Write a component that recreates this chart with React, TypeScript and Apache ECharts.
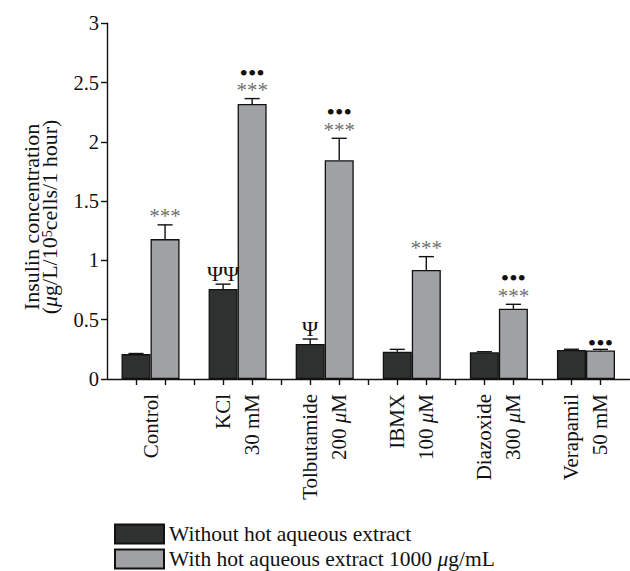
import React, { useEffect, useRef } from "react";
import * as echarts from "echarts";

const categories = ["Control", "KCl\n30 mM", "Tolbutamide\n200 μM", "IBMX\n100 μM", "Diazoxide\n300 μM", "Verapamil\n50 mM"];
const seriesNames = ["Without hot aqueous extract", "With hot aqueous extract 1000 μg/mL"];
const withoutValues = [0.21, 0.76, 0.295, 0.23, 0.225, 0.245];
const withoutSem = [0.005, 0.04, 0.042, 0.02, 0.005, 0.006];
const withValues = [1.18, 2.32, 1.845, 0.92, 0.592, 0.24];
const withSem = [0.12, 0.045, 0.185, 0.112, 0.038, 0.01];
const withoutMarks = ["", "ΨΨ", "Ψ", "", "", ""];
const withStars = ["***", "***", "***", "***", "***", ""];
const withDots = ["", "•••", "•••", "", "•••", "•••"];
const yTicks = [0, 0.5, 1, 1.5, 2, 2.5, 3];

const FONT = "'Liberation Serif', 'Times New Roman', serif";
const DARK = "#2f3130";
const LIGHT = "#a0a1a4";
const STAR = "#707070";
const FS = 21;

const italicMu = (s: string) => s.replace(/μ/g, "{i|μ}");

export default function App() {
  const ref = useRef<HTMLDivElement>(null);
  useEffect(() => {
    if (!ref.current) return;
    const chart = echarts.init(ref.current, undefined, { renderer: "svg" });

    const markLines = (side: number, idx: number): { text: string; kind: string }[] => {
      const out: { text: string; kind: string }[] = [];
      if (side < 0) {
        if (withoutMarks[idx]) out.push({ text: withoutMarks[idx], kind: "psi" });
      } else {
        if (withStars[idx]) out.push({ text: withStars[idx], kind: "star" });
        if (withDots[idx]) out.push({ text: withDots[idx], kind: "dot" });
      }
      return out;
    };

    const makeRenderer = (side: number) => (params: any, api: any) => {
      const ci = api.value(0);
      const v = api.value(1);
      const e = api.value(2);
      const band = api.size([1, 0])[0];
      const bw = band / 3;
      const p0 = api.coord([ci, v]);
      const p1 = api.coord([ci, v + e]);
      const x = p0[0] + (side * bw) / 2;
      const half = bw * 0.26;
      const children: any[] = [
        { type: "line", shape: { x1: x, y1: p0[1], x2: x, y2: p1[1] }, style: { stroke: "#111", lineWidth: 1.4 } },
        { type: "line", shape: { x1: x - half, y1: p1[1], x2: x + half, y2: p1[1] }, style: { stroke: "#111", lineWidth: 1.4 } },
      ];
      const lines = markLines(side, params.dataIndex);
      const capY = p1[1];
      lines.forEach((ln, k) => {
        let fontSize = 21;
        let fill = "#111";
        let cy = capY;
        let lh = 10;
        if (ln.kind === "star") {
          fill = STAR;
          cy = capY - 8.5;
        } else if (ln.kind === "dot") {
          fontSize = 24;
          cy = k === 0 ? capY - 6 : capY - 26;
        } else {
          fontSize = 22;
          cy = capY - 11;
          lh = 14;
        }
        children.push({
          type: "text",
          x,
          y: cy,
          style: {
            text: ln.text,
            fill,
            fontSize,
            fontFamily: FONT,
            lineHeight: lh,
            align: "center",
            verticalAlign: "middle",
            textAlign: "center",
            textVerticalAlign: "middle",
          },
        });
      });
      return { type: "group", children };
    };

    const slotCount = categories.length * 3;
    const tickValues: number[] = [];
    for (let i = 1; i < slotCount; i++) tickValues.push(i);

    chart.setOption({
      animation: false,
      textStyle: { fontFamily: FONT },
      grid: { left: 107, right: 0.5, top: 23.3, bottom: 192, containLabel: false, outerBoundsMode: "none" },
      legend: {
        data: seriesNames,
        orient: "vertical",
        left: 114,
        top: 523,
        height: 60,
        width: 500,
        padding: 0,
        itemWidth: 49,
        itemHeight: 19,
        itemGap: 3,
        icon: "rect",
        formatter: (n: string) => italicMu(n),
        textStyle: {
          fontSize: 21.5,
          fontFamily: FONT,
          color: "#111",
          lineHeight: 19,
          rich: { i: { fontStyle: "italic", fontSize: 21.5, fontFamily: FONT, color: "#111", lineHeight: 19 } },
        },
      },
      xAxis: [
        {
          type: "category",
          data: categories,
          axisLine: { show: true, lineStyle: { color: "#111", width: 1.4 } },
          axisTick: { show: false },
          axisLabel: {
            rotate: 90,
            margin: 15,
            fontSize: FS,
            fontFamily: FONT,
            color: "#111",
            lineHeight: 29,
            interval: 0,
            formatter: (v: string) => italicMu(v),
            rich: { i: { fontStyle: "italic", fontSize: FS, fontFamily: FONT, color: "#111", lineHeight: 29 } },
          },
        },
        {
          type: "value",
          min: 0,
          max: slotCount,
          position: "bottom",
          axisLine: { show: false },
          axisLabel: { show: false },
          splitLine: { show: false },
          axisTick: { show: true, length: 6, customValues: tickValues, lineStyle: { color: "#111", width: 1.4 } },
        },
      ],
      yAxis: {
        type: "value",
        min: 0,
        max: 3,
        interval: 0.5,
        axisLine: { show: true, lineStyle: { color: "#111", width: 1.4 } },
        axisTick: { show: true, length: 6, lineStyle: { color: "#111", width: 1.4 } },
        splitLine: { show: false },
        axisLabel: {
          fontSize: 20.5,
          fontFamily: FONT,
          color: "#111",
          margin: 8,
          formatter: (v: number) => (yTicks.includes(v) ? String(v) : ""),
        },
      },
      graphic: [
        {
          type: "text",
          x: 40,
          y: 217,
          rotation: Math.PI / 2,
          style: {
            text: "Insulin concentration\n({i|μ}g/L/10{sup|5}cells/1 hour)",
            fontSize: 22,
            fontFamily: FONT,
            fill: "#111",
            align: "center",
            verticalAlign: "middle",
            lineHeight: 18,
            rich: {
              i: { fontStyle: "italic", fontSize: 22, fontFamily: FONT, fill: "#111", lineHeight: 18 },
              sup: { fontSize: 14, fontFamily: FONT, fill: "#111", lineHeight: 18, verticalAlign: "top", padding: [0, 0, 8, 0] },
            },
          },
        },
      ],
      series: [
        {
          name: seriesNames[0],
          type: "bar",
          data: withoutValues,
          barGap: "0%",
          barCategoryGap: "33.33%",
          itemStyle: { color: DARK, borderColor: "#111", borderWidth: 1.3 },
        },
        {
          name: seriesNames[1],
          type: "bar",
          data: withValues,
          barGap: "0%",
          barCategoryGap: "33.33%",
          itemStyle: { color: LIGHT, borderColor: "#111", borderWidth: 1.3 },
        },
        {
          type: "custom",
          renderItem: makeRenderer(-1),
          data: withoutValues.map((v, i) => [i, v, withoutSem[i]]),
          encode: { x: 0, y: 1 },
          z: 5,
        },
        {
          type: "custom",
          renderItem: makeRenderer(1),
          data: withValues.map((v, i) => [i, v, withSem[i]]),
          encode: { x: 0, y: 1 },
          z: 5,
        },
      ],
    });
    return () => chart.dispose();
  }, []);
  return <div ref={ref} style={{ position: "fixed", left: 0, top: 0, width: 630, height: 571, background: "#fff" }} />;
}
